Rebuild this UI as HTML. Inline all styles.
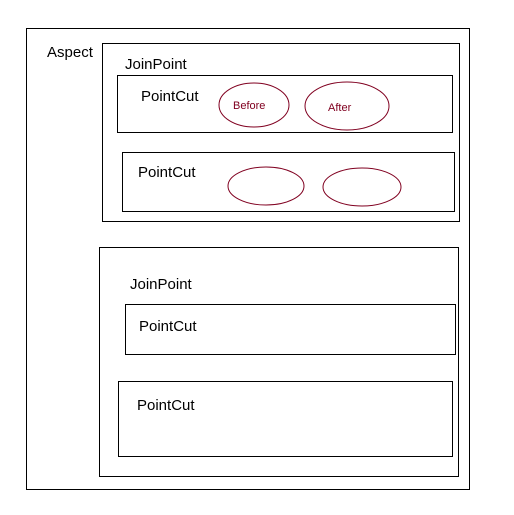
<!DOCTYPE html>
<html><head><style>body{margin:0;background:#fff}svg{display:block}</style></head><body>
<svg width="514" height="515" xmlns="http://www.w3.org/2000/svg" font-family="Liberation Sans, sans-serif">
<g fill="none" stroke="#000" stroke-width="1">
<rect x="26.5" y="28.5" width="443" height="461"/>
<rect x="102.5" y="43.5" width="357" height="178"/>
<rect x="117.5" y="75.5" width="335" height="57"/>
<rect x="122.5" y="152.5" width="332" height="59"/>
<rect x="99.5" y="247.5" width="359" height="229"/>
<rect x="125.5" y="304.5" width="330" height="50"/>
<rect x="118.5" y="381.5" width="334" height="75"/>
</g>
<g fill="none" stroke="#800020" stroke-width="1">
<ellipse cx="254" cy="105" rx="35" ry="22"/>
<ellipse cx="347" cy="106" rx="42" ry="24"/>
<ellipse cx="266" cy="186" rx="38" ry="19"/>
<ellipse cx="362" cy="187" rx="39" ry="19"/>
</g>
<g font-size="15" fill="#000">
<text x="47" y="57">Aspect</text>
<text x="125" y="69">JoinPoint</text>
<text x="141" y="101">PointCut</text>
<text x="138" y="177">PointCut</text>
<text x="130" y="289">JoinPoint</text>
<text x="139" y="331">PointCut</text>
<text x="137" y="410">PointCut</text>
</g>
<g font-size="11" fill="#800020">
<text x="233" y="109">Before</text>
<text x="328" y="111">After</text>
</g>
</svg>
</body></html>
